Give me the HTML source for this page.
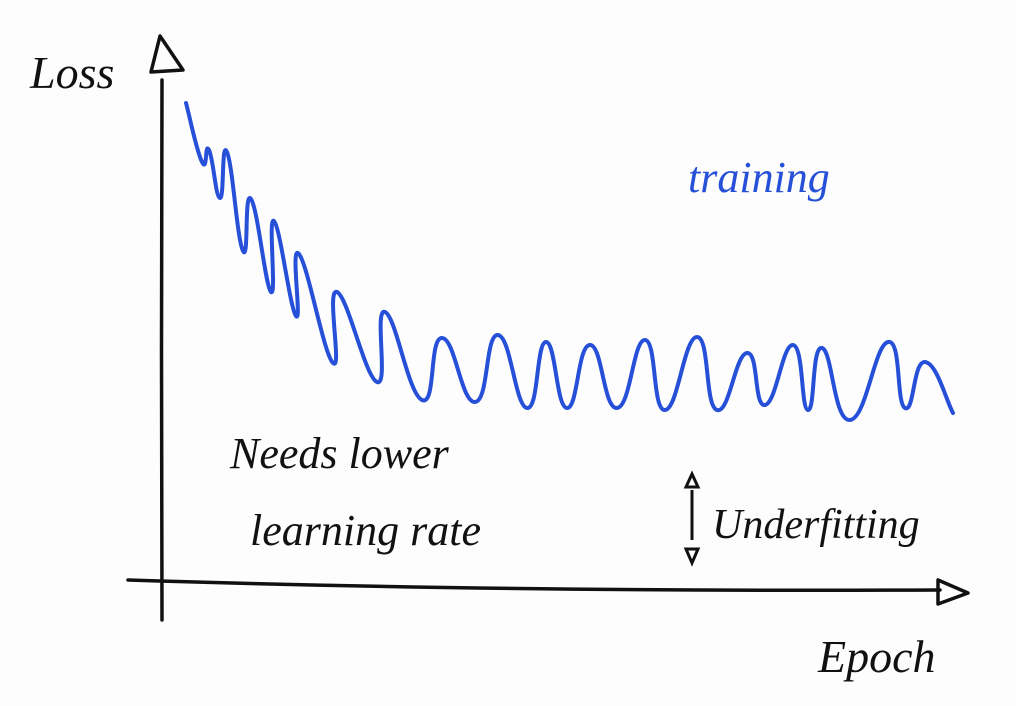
<!DOCTYPE html>
<html><head><meta charset="utf-8"><style>
html,body{margin:0;padding:0;background:#fdfdfd;}
svg{display:block;}
text{font-family:"Liberation Serif",serif;font-style:italic;}
</style></head><body>
<svg id="chart" width="1016" height="706" viewBox="0 0 1016 706">
<rect width="1016" height="706" fill="#fdfdfd"/>
<g>
<path d="M162 80 Q161 350 162 620" stroke="#111" stroke-width="3.5" fill="none" stroke-linecap="round"/>
<path d="M160 36 L151 72 L183 70 Z" stroke="#111" stroke-width="3.5" fill="none" stroke-linejoin="round"/>
</g>
<g>
<path d="M128 580 Q500 592 940 590" stroke="#111" stroke-width="3.5" fill="none" stroke-linecap="round"/>
<path d="M938 580 L938 604 L968 593 Z" stroke="#111" stroke-width="3.5" fill="none" stroke-linejoin="round"/>
</g>
<text x="30" y="88" font-size="46" fill="#111">Loss</text>
<text x="818" y="672" font-size="46" fill="#111">Epoch</text>
<text x="688" y="192" font-size="44" fill="#2650d8">training</text>
<text x="230" y="468" font-size="44" fill="#111">Needs lower</text>
<text x="250" y="545" font-size="44" fill="#111">learning rate</text>
<g>
<path d="M692 490 L692 540" stroke="#111" stroke-width="3" fill="none"/>
<path d="M686 487 L692 474 L698 487 Z" stroke="#111" stroke-width="3" fill="none"/>
<path d="M686 549 L692 563 L698 549 Z" stroke="#111" stroke-width="3" fill="none"/>
</g>
<text x="712" y="538" font-size="42" fill="#111">Underfitting</text>
<path id="series" stroke="#2650d8" stroke-width="4" fill="none" stroke-linecap="round" stroke-linejoin="round"/>
</svg>
<script>
const epochs = [2.6,4.2,4.9,6.0,6.7,8.3,9.1,11.1,11.4,13.6,13.9,17.3,17.7,21.7,22.5,26.2,28.2,31.5,33.8,36.7,38.6,40.7,43.0,45.7,48.5,50.5,53.7,55.7,58.7,60.5,63.3,64.8,66.2,69.0,72.8,74.5,76.5,79.3];
const trainingLoss = [48.7,42.8,44.0,39.2,43.8,33.9,39.1,29.8,36.9,27.4,33.6,22.7,29.8,20.8,27.8,19.0,25.2,18.8,25.5,18.2,24.8,18.2,24.5,18.2,25.0,18.0,25.3,18.0,23.7,18.5,24.5,18.0,24.2,17.0,24.8,18.2,22.8,17.7];
function xScale(e){return 160 + e*10;}
function yScale(v){return 590 - v*10;}
const pts = epochs.map((e,i)=>[xScale(e), yScale(trainingLoss[i])]);
let d = 'M'+pts[0][0]+' '+pts[0][1];
for(let i=0;i<pts.length-1;i++){
  const p0=pts[Math.max(0,i-1)],p1=pts[i],p2=pts[i+1],p3=pts[Math.min(pts.length-1,i+2)];
  const t=0.3;
  const c1=[p1[0]+(p2[0]-p0[0])*t/1.2,p1[1]+(p2[1]-p0[1])*t/1.2];
  const c2=[p2[0]-(p3[0]-p1[0])*t/1.2,p2[1]-(p3[1]-p1[1])*t/1.2];
  d+=' C'+c1[0].toFixed(1)+' '+c1[1].toFixed(1)+' '+c2[0].toFixed(1)+' '+c2[1].toFixed(1)+' '+p2[0].toFixed(1)+' '+p2[1].toFixed(1);
}
document.getElementById('series').setAttribute('d', d);
</script>
</body></html>
